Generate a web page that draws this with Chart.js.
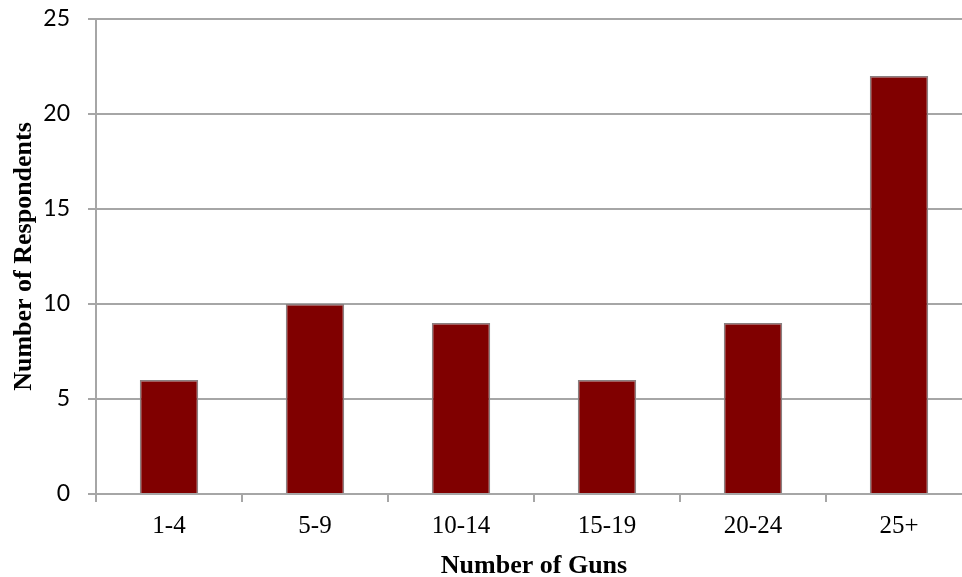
<!DOCTYPE html>
<html>
<head>
<meta charset="utf-8">
<script src="https://cdn.jsdelivr.net/npm/chart.js@4"></script>
<style>
  html, body { margin: 0; padding: 0; background: #ffffff; overflow: hidden; }
  #wrap { width: 980px; height: 577px; position: relative; }
</style>
</head>
<body>
<div id="wrap"><canvas id="chart"></canvas></div>
<script>
// Survey: how many guns each respondent owns
const gunRanges = ['1-4', '5-9', '10-14', '15-19', '20-24', '25+'];
const respondents = [6, 10, 9, 6, 9, 22];
const yTickValues = [0, 5, 10, 15, 20, 25];

const gridGray = '#a6a6a6';

new Chart(document.getElementById('chart'), {
  type: 'bar',
  data: {
    labels: gunRanges,
    datasets: [{
      data: respondents,
      backgroundColor: '#800000',
      borderColor: '#8a7f80',
      borderWidth: 1.5,
      categoryPercentage: 1.0,
      barPercentage: 0.4
    }]
  },
  options: {
    responsive: true,
    maintainAspectRatio: false,
    animation: false,
    layout: { padding: { top: 19, right: 8, left: 0, bottom: 0 } },
    plugins: { legend: { display: false }, tooltip: { enabled: false } },
    scales: {
      x: {
        grid: {
          display: true,
          drawOnChartArea: false,
          offset: true,
          tickLength: 8,
          color: gridGray,
          lineWidth: 2
        },
        border: { display: true, color: gridGray, width: 2 },
        ticks: {
          color: '#000000',
          padding: 9,
          font: { family: '"Liberation Serif", "Times New Roman", serif', size: 25 }
        },
        title: {
          display: true,
          text: 'Number of Guns',
          color: '#000000',
          padding: { top: 2, bottom: -5 },
          font: { family: '"Liberation Serif", "Times New Roman", serif', size: 26, weight: 'bold', lineHeight: 1.2 }
        },
        afterFit(scale) {
          scale.height = 83;
          scale.paddingLeft = 0;
          scale.paddingRight = 0;
        }
      },
      y: {
        min: 0,
        max: 25,
        afterBuildTicks(scale) { scale.ticks = yTickValues.map(v => ({ value: v })); },
        grid: {
          color: gridGray,
          lineWidth: 2,
          tickLength: 8
        },
        border: { display: true, color: gridGray, width: 2 },
        ticks: {
          color: '#000000',
          padding: 18,
          font: { family: 'Lato, "Liberation Sans", sans-serif', size: 23 }
        },
        title: {
          display: true,
          text: 'Number of Respondents',
          color: '#000000',
          padding: { top: 9, bottom: 0 },
          font: { family: '"Liberation Serif", "Times New Roman", serif', size: 26, weight: 'bold', lineHeight: 1.2 }
        },
        afterFit(scale) {
          scale.width = 96;
          scale.paddingTop = 0;
          scale.paddingBottom = 0;
        }
      }
    }
  }
});
</script>
</body>
</html>
